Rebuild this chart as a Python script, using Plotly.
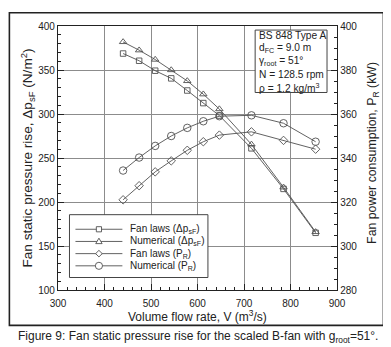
import plotly.graph_objects as go

flow = [440, 474.5, 509, 543.5, 578, 612.5, 647, 716, 785, 854]
dp_fanlaws = [368.7, 360.5, 349.2, 340.5, 326.7, 312.4, 298.2, 261.0, 214.9, 165.0]
dp_numerical = [381.9, 372.5, 361.9, 350.0, 337.6, 322.5, 305.6, 265.5, 216.7, 166.0]
pr_fanlaws = [321.0, 327.4, 333.7, 338.7, 343.5, 347.4, 350.4, 351.9, 348.0, 344.0]
pr_numerical = [334.3, 340.2, 345.5, 350.0, 353.7, 356.7, 359.0, 359.4, 355.8, 347.4]

series_names = ["Fan laws (Δp<sub>sF</sub>)", "Numerical (Δp<sub>sF</sub>)",
                "Fan laws (P<sub>R</sub>)", "Numerical (P<sub>R</sub>)"]
info_lines = ["BS 848 Type A", "d<sub>FC</sub> = 9.0 m", "γ<sub>root</sub> = 51°",
              "N = 128.5 rpm", "ρ = 1.2 kg/m<sup>3</sup>"]

FONT = "Liberation Sans, Arial, sans-serif"
LC = "#505050"
TXT = "#222222"

# figure geometry (page body has an 8px margin, so the div is offset by 8px)
W, H = 383, 339
PL, PR_, PT, PB = 49.5, 329.0, 15.9, 282.3
PW, PH = PR_ - PL, PB - PT


def fx(px):
    return (px - PL) / PW


def fy(py):
    return (PB - py) / PH


def path(points):
    return "M " + " L ".join(f"{fx(a):.5f},{fy(b):.5f}" for a, b in points) + " Z"


fig = go.Figure()
styles = [("square-open", 5.5, "y"), ("triangle-up-open", 6.5, "y"),
          ("diamond-open", 6.5, "y2"), ("circle-open", 7.5, "y2")]
data = [dp_fanlaws, dp_numerical, pr_fanlaws, pr_numerical]
for name, vals, (sym, sz, ax) in zip(series_names, data, styles):
    fig.add_trace(go.Scatter(
        x=flow, y=vals, name=name, yaxis=ax, mode="lines+markers", showlegend=False,
        line=dict(color=LC, width=0.9),
        marker=dict(symbol=sym, size=sz, color=LC, line=dict(color=LC, width=0.9)),
    ))

# white boxes (legend + parameter box) drawn over the grid
box_line = dict(color="#444", width=1)
fig.add_shape(type="rect", xref="paper", yref="paper", x0=fx(61), x1=fx(199.7),
              y0=fy(269.7), y1=fy(206.3), line=box_line, fillcolor="white", layer="above")
fig.add_shape(type="rect", xref="paper", yref="paper", x0=fx(247), x1=fx(319),
              y0=fy(83), y1=fy(20), line=box_line, fillcolor="white", layer="above")

# hand-drawn legend keys
leg_rows = [221.0, 233.3, 245.6, 257.9]
kx = 90.5
key_line = dict(color=LC, width=0.9)
for i, (ry, name) in enumerate(zip(leg_rows, series_names)):
    fig.add_shape(type="line", xref="paper", yref="paper", x0=fx(67), x1=fx(114),
                  y0=fy(ry), y1=fy(ry), line=key_line, layer="above")
    if i == 0:
        fig.add_shape(type="rect", xref="paper", yref="paper", x0=fx(kx - 2.6), x1=fx(kx + 2.6),
                      y0=fy(ry + 2.6), y1=fy(ry - 2.6), line=key_line, fillcolor="white",
                      layer="above")
    elif i == 1:
        fig.add_shape(type="path", xref="paper", yref="paper",
                      path=path([(kx - 3.2, ry + 2.2), (kx + 3.2, ry + 2.2), (kx, ry - 3.3)]),
                      line=key_line, fillcolor="white", layer="above")
    elif i == 2:
        fig.add_shape(type="path", xref="paper", yref="paper",
                      path=path([(kx - 3.3, ry), (kx, ry - 3.3), (kx + 3.3, ry), (kx, ry + 3.3)]),
                      line=key_line, fillcolor="white", layer="above")
    else:
        fig.add_shape(type="circle", xref="paper", yref="paper", x0=fx(kx - 3.6), x1=fx(kx + 3.6),
                      y0=fy(ry + 3.6), y1=fy(ry - 3.6), line=key_line, fillcolor="white",
                      layer="above")
    fig.add_annotation(xref="paper", yref="paper", x=fx(120), y=fy(ry), xanchor="left",
                       yanchor="middle", showarrow=False, text=name,
                       font=dict(family=FONT, size=10, color=TXT))

axis_common = dict(
    showline=True, linecolor="#222", linewidth=1.3, ticks="inside", ticklen=6,
    tickcolor="#222", tickfont=dict(family=FONT, size=10, color=TXT),
)
fig.update_layout(
    width=W, height=H,
    margin=dict(l=PL, r=W - PR_, t=PT, b=H - PB, pad=0),
    paper_bgcolor="white", plot_bgcolor="white",
    font=dict(family=FONT, color=TXT),
    xaxis=dict(range=[300, 900], dtick=100, showgrid=True, gridcolor="#8c8c8c", gridwidth=1,
               mirror=True, zeroline=False, ticklabelstandoff=4,
               minor=dict(dtick=20, ticks="inside", ticklen=3, tickcolor="#222", showgrid=False),
               **axis_common),
    yaxis=dict(range=[100, 400], dtick=50, showgrid=True, gridcolor="#8c8c8c", gridwidth=1,
               mirror=True, zeroline=False,
               minor=dict(dtick=10, ticks="inside", ticklen=3, tickcolor="#222", showgrid=False),
               **axis_common),
    yaxis2=dict(range=[280, 400], dtick=20, overlaying="y", side="right", showgrid=False,
                zeroline=False,
                minor=dict(dtick=5, ticks="inside", ticklen=3, tickcolor="#222", showgrid=False),
                **axis_common),
    showlegend=False,
)

for i, t in enumerate(info_lines):
    fig.add_annotation(xref="paper", yref="paper", x=fx(248.5), y=fy(25.3 + 13.3 * i),
                       xanchor="left", yanchor="middle", showarrow=False, text=t,
                       font=dict(family=FONT, size=10.2, color=TXT))

fig.add_annotation(
    xref="paper", yref="paper", x=0.5, y=fy(309), xanchor="center", yanchor="middle",
    showarrow=False, font=dict(family=FONT, size=12, color=TXT),
    text="Volume flow rate, V (m<sup>3</sup>/s)",
)
fig.add_annotation(
    xref="paper", yref="paper", x=fx(19), y=0.5, xanchor="center", yanchor="middle",
    textangle=-90, showarrow=False, font=dict(family=FONT, size=13.6, color=TXT),
    text="Fan static pressure rise, Δp<sub>sF</sub> (N/m<sup>2</sup>)",
)
fig.add_annotation(
    xref="paper", yref="paper", x=fx(365), y=fy(144), xanchor="center", yanchor="middle",
    textangle=-90, showarrow=False, font=dict(family=FONT, size=12.3, color=TXT),
    text="Fan power consumption, P<sub>R</sub> (kW)",
)
fig.add_annotation(
    xref="paper", yref="paper", x=fx(190), y=fy(330), xanchor="center", yanchor="middle",
    showarrow=False, font=dict(family=FONT, size=12, color=TXT),
    text="Figure 9: Fan static pressure rise for the scaled B-fan with g<sub>root</sub>=51°.",
)
# outer frame around the figure
fig.add_shape(type="rect", xref="paper", yref="paper",
              x0=fx(0.8), x1=fx(375.5), y0=fy(318), y1=fy(2.5),
              line=dict(color="#222", width=1.6), layer="above")

fig.write_html("out.html")
